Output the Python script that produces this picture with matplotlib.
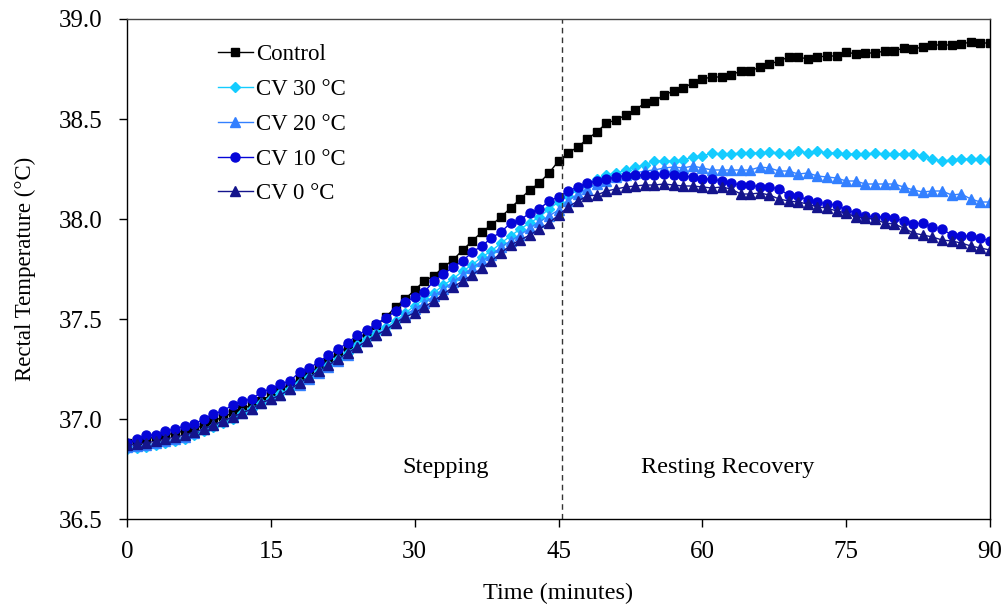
import numpy as np
import matplotlib
matplotlib.use("Agg")
import matplotlib.pyplot as plt

# time in minutes, one reading per minute
minutes = list(range(0, 91))

control = [
    36.88, 36.89, 36.90, 36.91, 36.92, 36.93, 36.94, 36.95, 36.97, 36.99,
    37.01, 37.03, 37.05, 37.07, 37.09, 37.12, 37.15, 37.17, 37.20, 37.23,
    37.26, 37.29, 37.33, 37.36, 37.40, 37.43, 37.47, 37.51, 37.56, 37.60,
    37.645, 37.69, 37.715, 37.76, 37.795, 37.845, 37.89, 37.935, 37.97, 38.01,
    38.055, 38.10, 38.145, 38.18, 38.23, 38.29, 38.33, 38.36, 38.40, 38.435,
    38.48, 38.495, 38.52, 38.545, 38.58, 38.59, 38.62, 38.64, 38.655, 38.68,
    38.70, 38.71, 38.71, 38.72, 38.74, 38.74, 38.76, 38.775, 38.79, 38.81,
    38.81, 38.80, 38.81, 38.815, 38.815, 38.835, 38.825, 38.83, 38.83, 38.84,
    38.84, 38.855, 38.85, 38.86, 38.87, 38.87, 38.87, 38.875, 38.885, 38.88,
    38.88,
]

cv30 = [
    36.85, 36.855, 36.86, 36.87, 36.88, 36.89, 36.90, 36.92, 36.94, 36.96,
    36.98, 37.00, 37.03, 37.05, 37.08, 37.10, 37.13, 37.15, 37.18, 37.21,
    37.24, 37.27, 37.30, 37.33, 37.37, 37.40, 37.43, 37.46, 37.49, 37.53,
    37.565, 37.60, 37.63, 37.67, 37.70, 37.74, 37.77, 37.81, 37.84, 37.88,
    37.915, 37.95, 37.98, 38.01, 38.05, 38.085, 38.115, 38.145, 38.17, 38.20,
    38.22, 38.23, 38.245, 38.26, 38.27, 38.29, 38.29, 38.29, 38.295, 38.31,
    38.315, 38.33, 38.325, 38.325, 38.33, 38.33, 38.33, 38.335, 38.33, 38.325,
    38.34, 38.33, 38.34, 38.33, 38.33, 38.325, 38.325, 38.325, 38.33, 38.325,
    38.325, 38.325, 38.325, 38.315, 38.30, 38.29, 38.295, 38.30, 38.30, 38.30,
    38.295,
]

cv20 = [
    36.86, 36.865, 36.87, 36.88, 36.89, 36.90, 36.91, 36.93, 36.95, 36.97,
    36.99, 37.01, 37.03, 37.05, 37.08, 37.10, 37.12, 37.15, 37.17, 37.20,
    37.23, 37.26, 37.29, 37.32, 37.36, 37.39, 37.42, 37.45, 37.48, 37.52,
    37.55, 37.58, 37.615, 37.65, 37.685, 37.72, 37.755, 37.79, 37.82, 37.86,
    37.89, 37.92, 37.955, 37.985, 38.015, 38.045, 38.09, 38.125, 38.15, 38.175,
    38.19, 38.21, 38.22, 38.23, 38.24, 38.245, 38.255, 38.26, 38.255, 38.265,
    38.255, 38.245, 38.245, 38.245, 38.245, 38.245, 38.26, 38.255, 38.24, 38.24,
    38.225, 38.23, 38.215, 38.21, 38.205, 38.19, 38.19, 38.175, 38.175, 38.175,
    38.175, 38.16, 38.145, 38.135, 38.14, 38.14, 38.12, 38.125, 38.10, 38.085,
    38.085,
]

cv10 = [
    36.88, 36.90, 36.92, 36.92, 36.94, 36.95, 36.965, 36.975, 37.00, 37.025,
    37.04, 37.07, 37.09, 37.10, 37.135, 37.15, 37.175, 37.19, 37.235, 37.255,
    37.285, 37.32, 37.35, 37.38, 37.42, 37.445, 37.475, 37.505, 37.54, 37.585,
    37.61, 37.635, 37.69, 37.725, 37.76, 37.79, 37.835, 37.865, 37.905, 37.935,
    37.98, 37.995, 38.03, 38.05, 38.09, 38.11, 38.14, 38.16, 38.18, 38.19,
    38.20, 38.21, 38.215, 38.22, 38.22, 38.22, 38.225, 38.22, 38.215, 38.21,
    38.20, 38.20, 38.19, 38.18, 38.17, 38.17, 38.16, 38.16, 38.15, 38.12,
    38.115, 38.095, 38.085, 38.075, 38.07, 38.045, 38.03, 38.015, 38.01, 38.01,
    38.005, 37.99, 37.975, 37.98, 37.96, 37.95, 37.92, 37.915, 37.915, 37.905,
    37.89,
]

cv0 = [
    36.87, 36.875, 36.88, 36.89, 36.90, 36.91, 36.92, 36.935, 36.95, 36.97,
    36.99, 37.01, 37.03, 37.05, 37.08, 37.10, 37.12, 37.15, 37.18, 37.21,
    37.24, 37.27, 37.30, 37.33, 37.36, 37.39, 37.42, 37.445, 37.48, 37.51,
    37.53, 37.56, 37.59, 37.625, 37.66, 37.69, 37.72, 37.755, 37.79, 37.83,
    37.87, 37.895, 37.92, 37.95, 37.98, 38.02, 38.06, 38.09, 38.115, 38.12,
    38.14, 38.15, 38.16, 38.165, 38.17, 38.17, 38.175, 38.17, 38.165, 38.165,
    38.16, 38.155, 38.16, 38.15, 38.125, 38.125, 38.13, 38.12, 38.10, 38.09,
    38.085, 38.075, 38.06, 38.055, 38.04, 38.03, 38.01, 38.005, 38.00, 37.98,
    37.975, 37.955, 37.93, 37.92, 37.91, 37.895, 37.89, 37.88, 37.865, 37.855,
    37.845,
]

series_labels = ["Control", "CV 30 \u00b0C", "CV 20 \u00b0C", "CV 10 \u00b0C", "CV 0 \u00b0C"]
x_ticks = [0, 15, 30, 45, 60, 75, 90]
y_ticks = [36.5, 37.0, 37.5, 38.0, 38.5, 39.0]
phase_split = 45.4

plt.rcParams["font.family"] = ["Liberation Serif", "DejaVu Serif"]
plt.rcParams["font.size"] = 17

fig = plt.figure(figsize=(10.05, 6.05), dpi=100)
ax = fig.add_axes([0.1264, 0.1421, 0.8587, 0.8265])

styles = [
    dict(color="black", marker="s", ms=6),
    dict(color="#14ccff", marker="D", ms=5),
    dict(color="#3380ff", marker="^", ms=6.5),
    dict(color="#0505d8", marker="o", ms=6.5),
    dict(color="#14148c", marker="^", ms=6.5),
]
for y, lab, st in zip([control, cv30, cv20, cv10, cv0], series_labels, styles):
    ax.plot(minutes, y, label=lab, lw=1.0, **st)

ax.axvline(phase_split, color="#333333", lw=1.0, ls=(0, (4, 3)))

ax.text(33.2, 36.76, "Stepping", ha="center", va="center", fontsize=17.5)
ax.text(62.6, 36.76, "Resting Recovery", ha="center", va="center", fontsize=17.5)

ax.set_xlim(0, 90)
ax.set_ylim(36.5, 39.0)
ax.set_xticks(x_ticks)
ax.set_yticks(y_ticks)
ax.set_yticklabels([f"{v:.1f}" for v in y_ticks])
ax.tick_params(direction="out", length=6, width=1, color="black", labelsize=18)
ax.tick_params(axis="y", pad=12)
ax.tick_params(axis="x", pad=10)
ax.set_xlabel("Time (minutes)", labelpad=14, fontsize=17.5)
ax.set_ylabel("Rectal Temperature (\u00b0C)", labelpad=16, fontsize=16.5)
for sp in ax.spines.values():
    sp.set_color("black")
    sp.set_linewidth(1.0)
ax.spines["top"].set_color("#444444")

ax.legend(loc="upper left", bbox_to_anchor=(0.095, 0.968), frameon=False,
          handlelength=1.5, handletextpad=0.15, labelspacing=0.6,
          borderaxespad=0.0, fontsize=16.5)

fig.savefig("out.png", dpi=100)
